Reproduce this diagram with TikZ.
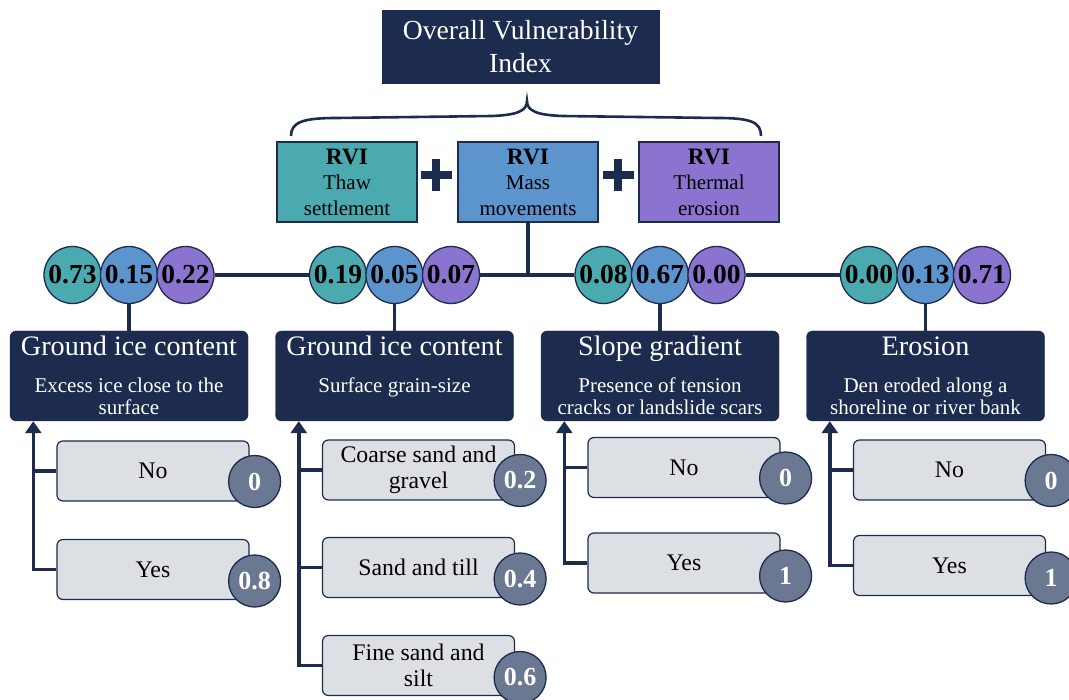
\documentclass[tikz,border=0pt]{standalone}
\usepackage{fontspec}
\setmainfont{Liberation Serif}
\usetikzlibrary{arrows.meta,calc}
\definecolor{navy}{RGB}{28,43,78}
\definecolor{teal1}{RGB}{75,170,176}
\definecolor{blue1}{RGB}{92,148,206}
\definecolor{purp1}{RGB}{139,116,207}
\definecolor{optgray}{RGB}{220,223,228}
\definecolor{slate}{RGB}{107,120,145}
\begin{document}
\begin{tikzpicture}[x=1pt,y=-1pt,
  conn/.style={draw=navy,line width=3.6pt},
  arr/.style={conn,-{Triangle[width=16pt,length=12pt]}},
  topbox/.style={rectangle,fill=navy,draw=navy,text=white,minimum width=277pt,minimum height=73pt,inner sep=0pt,align=center,font=\fontsize{27.6}{33.4}\selectfont},
  rvibox/.style={rectangle,draw=navy,line width=1.3pt,minimum width=140pt,minimum height=80pt,inner sep=0pt,align=center,font=\fontsize{21}{25.5}\selectfont},
  wcirc/.style={circle,draw=navy,line width=1.3pt,minimum size=57pt,inner sep=0pt,font=\bfseries\fontsize{27.5}{27.5}\selectfont},
  headbox/.style={rectangle,rounded corners=6pt,fill=navy,draw=navy,minimum width=238pt,minimum height=90pt,inner sep=0pt},
  headtitle/.style={text=white,inner sep=0pt,anchor=base,font=\fontsize{28.2}{30}\selectfont},
  headsub/.style={text=white,inner sep=0pt,anchor=north,align=center,font=\fontsize{21}{22.5}\selectfont},
  optbox/.style={rectangle,rounded corners=6pt,fill=optgray,draw=navy,line width=1.2pt,minimum width=192pt,minimum height=60pt,inner sep=0pt,align=center,font=\fontsize{23.8}{26}\selectfont},
  score/.style={circle,fill=slate,draw=navy,line width=1.3pt,minimum size=52pt,inner sep=0pt,text=white,font=\bfseries\fontsize{26}{26}\selectfont},
  plusbar/.style={draw=navy,line width=8.5pt}
]
\useasboundingbox (0,0) rectangle (1069,700);
\fill[white] (0,0) rectangle (1069,700);
\clip (0,0) rectangle (1069,700);

% top
\node[topbox] (ovi) at (520.5,46.5) {Overall Vulnerability\\Index};
\draw[navy,line width=2.6pt] (291,136) .. controls (291,122) and (303,118) .. (337,118) -- (492,116) .. controls (517,115) and (527,111) .. (527,101) .. controls (527,111) and (537,115) .. (562,116) -- (717,118) .. controls (751,118) and (761,122) .. (761,136);

\node[rvibox,fill=teal1] (rvit) at (347,182) {{\bfseries\fontsize{23.5}{25.5}\selectfont RVI}\\Thaw\\settlement};
\node[rvibox,fill=blue1] (rvim) at (528,182) {{\bfseries\fontsize{23.5}{25.5}\selectfont RVI}\\Mass\\movements};
\node[rvibox,fill=purp1] (rvie) at (709,182) {{\bfseries\fontsize{23.5}{25.5}\selectfont RVI}\\Thermal\\erosion};
\draw[plusbar] (421,175) -- (452,175) (436,159) -- (436,191);
\draw[plusbar] (603,175) -- (634,175) (618,159) -- (618,191);

% weight circles
\foreach \c/\n/\va/\vb/\vc in {129/a/0.73/0.15/0.22, 394.5/b/0.19/0.05/0.07, 660/c/0.08/0.67/0.00, 925.5/d/0.00/0.13/0.71}{
  \node[wcirc,fill=teal1] (\n1) at (\c-56.5,275) {\va};
  \node[wcirc,fill=blue1] (\n2) at (\c,275) {\vb};
  \node[wcirc,fill=purp1] (\n3) at (\c+56.5,275) {\vc};
  \node[headbox] (h\n) at (\c,376) {};
  \draw[conn] (\n2.south) -- (h\n.north);
}
\draw[conn] (a3.east) -- (b1.west);
\draw[conn] (b3.east) -- (c1.west);
\draw[conn] (c3.east) -- (d1.west);
\draw[conn] (rvim.south) -- (rvim.south |- b3.east);

% heading texts
\node[headtitle] (hat) at (129,356) {Ground ice content};
\node[headsub] (has) at (129,377.4) {Excess ice close to the\\surface};
\node[headtitle] (hbt) at (394.5,356) {Ground ice content};
\node[headsub] (hbs) at (394.5,377.4) {Surface grain-size};
\node[headtitle] (hct) at (660,356) {Slope gradient};
\node[headsub] (hcs) at (660,377.4) {Presence of tension\\cracks or landslide scars};
\node[headtitle] (hdt) at (925.5,356) {Erosion};
\node[headsub] (hds) at (925.5,377.4) {Den eroded along a\\shoreline or river bank};

% options column 1
\coordinate (ta) at ($(ha.south west)+(23.5,0)$);
\node[optbox] (oa1) at (153,471) {No};
\node[optbox] (oa2) at (153,569.5) {Yes};
\node[score] (sa1) at ($(oa1.east)+(5,10.5)$) {0};
\node[score] (sa2) at ($(oa2.east)+(5,11.5)$) {0.8};
\draw[arr] (oa2.west) -| (ta);
\draw[conn] (oa1.west) -- (oa1.west -| ta);

% options column 2
\coordinate (tb) at ($(hb.south west)+(23.5,0)$);
\node[optbox] (ob1) at (418.5,470) {Coarse sand and\\gravel};
\node[optbox] (ob2) at (418.5,567.5) {Sand and till};
\node[optbox] (ob3) at (418.5,665.5) {Fine sand and\\silt};
\node[score] (sb1) at ($(ob1.east)+(5,10.5)$) {0.2};
\node[score] (sb2) at ($(ob2.east)+(5,11.5)$) {0.4};
\node[score] (sb3) at ($(ob3.east)+(5,12)$) {0.6};
\draw[arr] (ob3.west) -| (tb);
\draw[conn] (ob1.west) -- (ob1.west -| tb);
\draw[conn] (ob2.west) -- (ob2.west -| tb);

% options column 3
\coordinate (tc) at ($(hc.south west)+(23.5,0)$);
\node[optbox] (oc1) at (684,467.5) {No};
\node[optbox] (oc2) at (684,563) {Yes};
\node[score] (sc1) at ($(oc1.east)+(5,10.5)$) {0};
\node[score] (sc2) at ($(oc2.east)+(5,13)$) {1};
\draw[arr] (oc2.west) -| (tc);
\draw[conn] (oc1.west) -- (oc1.west -| tc);

% options column 4
\coordinate (td) at ($(hd.south west)+(23.5,0)$);
\node[optbox] (od1) at (949.5,470) {No};
\node[optbox] (od2) at (949.5,565.5) {Yes};
\node[score] (sd1) at ($(od1.east)+(5,10.5)$) {0};
\node[score] (sd2) at ($(od2.east)+(5,12.5)$) {1};
\draw[arr] (od2.west) -| (td);
\draw[conn] (od1.west) -- (od1.west -| td);
\end{tikzpicture}
\end{document}
